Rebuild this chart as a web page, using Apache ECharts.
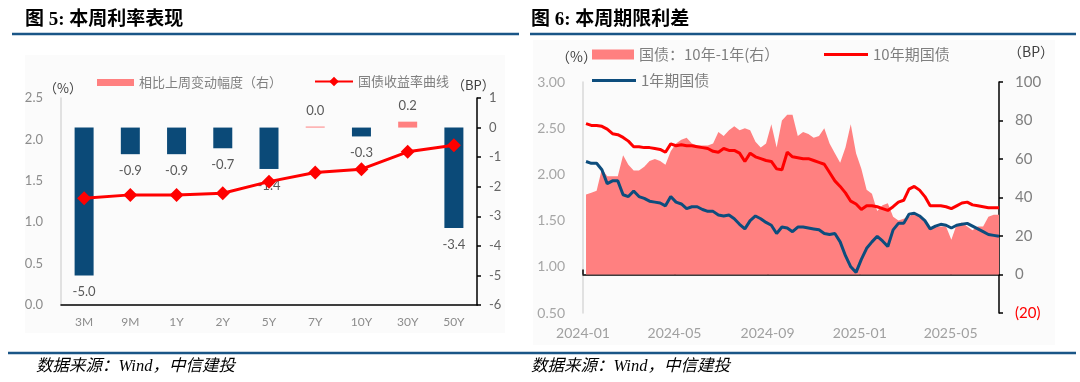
<!DOCTYPE html>
<html><head><meta charset="utf-8">
<script src="https://cdn.jsdelivr.net/npm/echarts@6/dist/echarts.min.js"></script>
<style>html,body{margin:0;padding:0;background:#fff}#c{width:1080px;height:382px}</style>
</head><body><div id="c"></div>
<script>
// ---- Figure 5 data ----
const tenorCats = ['3M','9M','1Y','2Y','5Y','7Y','10Y','30Y','50Y'];
const weeklyChangeBP = [-5.0,-0.9,-0.9,-0.7,-1.4,0.0,-0.3,0.2,-3.4];
const yieldCurve = [1.29,1.33,1.33,1.35,1.49,1.60,1.64,1.85,1.93];
const leftPctTicks = [0,2.5,0.5];
const leftBpTicks = [-6,1,1];

// ---- Figure 6 data (weekly) ----
const dates = ['2024-01-05','2024-01-12','2024-01-19','2024-01-26','2024-02-02','2024-02-09','2024-02-16','2024-02-23',
'2024-03-01','2024-03-08','2024-03-15','2024-03-22','2024-03-29','2024-04-05','2024-04-12','2024-04-19','2024-04-26',
'2024-05-03','2024-05-10','2024-05-17','2024-05-24','2024-05-31','2024-06-07','2024-06-14','2024-06-21','2024-06-28',
'2024-07-05','2024-07-12','2024-07-19','2024-07-26','2024-08-02','2024-08-09','2024-08-16','2024-08-23','2024-08-30',
'2024-09-06','2024-09-13','2024-09-20','2024-09-27','2024-10-04','2024-10-11','2024-10-18','2024-10-25',
'2024-11-01','2024-11-08','2024-11-15','2024-11-22','2024-11-29','2024-12-06','2024-12-13','2024-12-20','2024-12-27',
'2025-01-03','2025-01-10','2025-01-17','2025-01-24','2025-01-31','2025-02-07','2025-02-14','2025-02-21','2025-02-28',
'2025-03-07','2025-03-14','2025-03-21','2025-03-28','2025-04-04','2025-04-11','2025-04-18','2025-04-25',
'2025-05-02','2025-05-09','2025-05-16','2025-05-23','2025-05-30','2025-06-06','2025-06-13','2025-06-20','2025-06-27','2025-07-04'];
const y10 = [2.55,2.53,2.53,2.52,2.49,2.44,2.43,2.40,2.36,2.30,
2.30,2.29,2.29,2.28,2.27,2.24,2.33,2.31,2.32,2.31,
2.31,2.30,2.29,2.28,2.25,2.24,2.28,2.26,2.26,2.23,
2.14,2.23,2.19,2.17,2.15,2.14,2.06,2.05,2.24,2.19,
2.18,2.17,2.17,2.15,2.13,2.11,2.02,1.93,1.87,1.80,
1.71,1.68,1.62,1.66,1.66,1.65,1.63,1.61,1.65,1.70,
1.72,1.84,1.87,1.83,1.76,1.66,1.66,1.66,1.65,1.63,
1.66,1.69,1.70,1.67,1.66,1.65,1.64,1.64,1.64];
const y1 = [2.14,2.12,2.12,2.05,1.90,1.93,1.93,1.78,1.76,1.82,
1.76,1.74,1.71,1.70,1.69,1.66,1.76,1.70,1.68,1.63,
1.65,1.65,1.62,1.60,1.60,1.56,1.55,1.56,1.52,1.46,
1.41,1.50,1.55,1.52,1.48,1.45,1.36,1.43,1.42,1.38,
1.43,1.43,1.42,1.41,1.40,1.36,1.35,1.36,1.27,1.12,
1.00,0.94,1.08,1.20,1.27,1.33,1.28,1.22,1.40,1.47,
1.47,1.57,1.58,1.55,1.50,1.41,1.44,1.46,1.45,1.42,
1.45,1.46,1.47,1.44,1.41,1.38,1.35,1.34,1.33];
const spreadBP = [41.5,42.5,43.5,55,51,51,51,62,57,54,
54,56,59,60,59,57,64,68,70,71,
68,67,67,67,68,74,72,75,77,75,
76,75,69,66,68,78,66,80,83,83,
72,74,73,71,72,76,68,63,58,66,
78,63,55,44,42,33,36,37,30,28,
29,30,32,30,28,23,25,25,25,18,
26,27,25,23,25,25,30,31,31];
const timeTicks = ['2024-01-01','2024-05-01','2024-09-01','2025-01-01','2025-05-01'];
const timeRange = ['2024-01-01','2025-07-04'];

function ts(s){const p=s.split('-').map(Number);return new Date(p[0],p[1]-1,p[2]).getTime();}

const BLUE='#0b4a78', PINK='#ff8080', RED='#ff0000', LINEBLUE='#0d4d7d';
const FONT='Lato, "Noto Sans CJK SC", sans-serif';
const CJK='"Noto Sans CJK SC", sans-serif';

const chart = echarts.init(document.getElementById('c'), null, {renderer:'canvas'});

const txt = (x,y,t,o)=>({type:'text',x:x,y:y,style:Object.assign({text:t,fill:'#404040',font:'13px '+CJK,textAlign:'left',textVerticalAlign:'middle'},o||{})});

chart.setOption({
  animation:false,
  textStyle:{fontFamily:FONT},
  graphic:[
    {type:'rect',shape:{x:25,y:55,width:480,height:278},style:{fill:'#fbfbfb'},z:-10},
    {type:'rect',shape:{x:533,y:40,width:522,height:305},style:{fill:'#fbfbfb'},z:-10},
    txt(25,20,'图 5: 本周利率表现',{fill:'#000',font:'bold 19px "Liberation Serif", "Noto Sans CJK SC"'}),
    txt(531,20,'图 6: 本周期限利差',{fill:'#000',font:'bold 19px "Liberation Serif", "Noto Sans CJK SC"'}),
    {type:'line',shape:{x1:12,y1:34,x2:519,y2:34},style:{stroke:'#1a5687',lineWidth:2.5}},
    {type:'line',shape:{x1:530,y1:34,x2:1076,y2:34},style:{stroke:'#1a5687',lineWidth:2.5}},
    {type:'line',shape:{x1:8,y1:353,x2:1076,y2:353},style:{stroke:'#1a5687',lineWidth:2.5}},
    txt(36,367,'数据来源：Wind，中信建投',{fill:'#000',font:'italic 16.5px "Liberation Serif", "Noto Sans CJK SC"'}),
    txt(531,367,'数据来源：Wind，中信建投',{fill:'#000',font:'italic 16.5px "Liberation Serif", "Noto Sans CJK SC"'}),
    txt(44,88,'（%）',{font:'13px '+CJK}),
    txt(452,85,'（BP）',{font:'13px '+CJK}),
    txt(556,57,'（%）',{font:'14px '+CJK}),
    txt(1008,52,'（BP）',{font:'14px '+CJK})
  ],
  legend:[
    {data:['相比上周变动幅度（右）'],left:92,top:71,icon:'rect',itemWidth:37,itemHeight:7,itemGap:5,textStyle:{color:'#808080',fontSize:13,fontFamily:CJK}},
    {data:['国债收益率曲线'],left:309,top:70,itemWidth:38,itemHeight:12,textStyle:{color:'#808080',fontSize:13,fontFamily:CJK}},
    {data:[{name:'国债：10年-1年(右）',icon:'rect'}],left:587,top:42,itemWidth:42,itemHeight:10,textStyle:{color:'#7f7f7f',fontSize:15,fontFamily:CJK}},
    {data:[{name:'10年期国债',icon:'rect'}],left:819,top:42,itemWidth:44,itemHeight:3,textStyle:{color:'#7f7f7f',fontSize:15,fontFamily:CJK}},
    {data:[{name:'1年期国债',icon:'rect'}],left:587,top:68,itemWidth:44,itemHeight:3,textStyle:{color:'#7f7f7f',fontSize:15,fontFamily:CJK}}
  ],
  grid:[
    {left:61,right:1080-477,top:98,bottom:382-305,containLabel:false},
    {left:583,right:1080-999,top:82,bottom:382-313,containLabel:false}
  ],
  xAxis:[
    {type:'category',gridIndex:0,data:tenorCats,boundaryGap:true,
     axisLine:{lineStyle:{color:'#000',width:1.5}},
     axisTick:{inside:true,length:5,lineStyle:{color:'#000',width:1.5}},
     axisLabel:{color:'#8c8c8c',fontSize:12,margin:11,fontFamily:FONT},splitLine:{show:false}},
    {type:'value',gridIndex:1,min:ts(timeRange[0]),max:ts(timeRange[1]),
     axisLine:{lineStyle:{color:'#000',width:1.5}},
     axisTick:{show:true,inside:true,length:5,customValues:timeTicks.map(ts),lineStyle:{color:'#000',width:1.5}},
     axisLabel:{color:'#a0a0a0',fontSize:14,margin:13,fontFamily:FONT,customValues:timeTicks.map(ts),hideOverlap:false,
       formatter:function(v){const d=new Date(v);return d.getFullYear()+'-'+String(d.getMonth()+1).padStart(2,'0');}},
     splitLine:{show:false}}
  ],
  yAxis:[
    {type:'value',gridIndex:0,position:'left',min:leftPctTicks[0],max:leftPctTicks[1],interval:leftPctTicks[2],
     axisLine:{show:true,lineStyle:{color:'#d9d9d9',width:1.5}},axisTick:{show:false},
     axisLabel:{color:'#8c8c8c',fontSize:13,margin:18,formatter:v=>v.toFixed(1)},splitLine:{show:false}},
    {type:'value',gridIndex:0,position:'right',min:leftBpTicks[0],max:leftBpTicks[1],interval:leftBpTicks[2],
     axisLine:{show:true,lineStyle:{color:'#000',width:1.5}},axisTick:{show:true,length:4,lineStyle:{color:'#000',width:1.5}},
     axisLabel:{color:'#666',fontSize:13,margin:12},splitLine:{show:false}},
    {type:'value',gridIndex:1,position:'left',min:0.5,max:3,interval:0.5,
     axisLine:{show:true,lineStyle:{color:'#d9d9d9',width:1.5}},axisTick:{show:false},
     axisLabel:{color:'#a6a6a6',fontSize:14,margin:18,formatter:v=>v.toFixed(2)},splitLine:{show:false}},
    {type:'value',gridIndex:1,position:'right',min:-20,max:100,interval:20,
     axisLine:{show:true,lineStyle:{color:'#000',width:1.5}},axisTick:{show:true,length:4,lineStyle:{color:'#000',width:1.5}},
     axisLabel:{fontSize:15,margin:16,formatter:v=>v<0?'('+Math.abs(v)+')':String(v),
       color:function(v){return Number(v)<0?'#ff0000':'#7f7f7f';}},splitLine:{show:false}}
  ],
  series:[
    {name:'相比上周变动幅度（右）',type:'bar',xAxisIndex:0,yAxisIndex:1,barWidth:19,barMinHeight:1,
     itemStyle:{color:PINK},
     data:weeklyChangeBP.map(v=>({value:v,itemStyle:{color:v<0?BLUE:PINK},
       label:{position:v<0?'bottom':'top',distance:v<0?10:9}})),
     label:{show:true,color:'#595959',fontSize:13,formatter:p=>p.value.toFixed(1)},z:2},
    {name:'国债收益率曲线',type:'line',xAxisIndex:0,yAxisIndex:0,data:yieldCurve,
     symbol:'diamond',symbolSize:14,itemStyle:{color:RED},lineStyle:{color:RED,width:3},z:5},
    {name:'国债：10年-1年(右）',type:'line',xAxisIndex:1,yAxisIndex:3,
     data:dates.map((d,i)=>[ts(d),spreadBP[i]]),showSymbol:false,symbol:'none',
     itemStyle:{color:PINK},lineStyle:{width:0,color:PINK},areaStyle:{color:PINK,opacity:1},z:1},
    {name:'10年期国债',type:'line',xAxisIndex:1,yAxisIndex:2,
     data:dates.map((d,i)=>[ts(d),y10[i]]),showSymbol:false,symbol:'none',
     itemStyle:{color:RED},lineStyle:{color:RED,width:3},z:3},
    {name:'1年期国债',type:'line',xAxisIndex:1,yAxisIndex:2,
     data:dates.map((d,i)=>[ts(d),y1[i]]),showSymbol:false,symbol:'none',
     itemStyle:{color:LINEBLUE},lineStyle:{color:LINEBLUE,width:3},z:3}
  ]
});
</script></body></html>
